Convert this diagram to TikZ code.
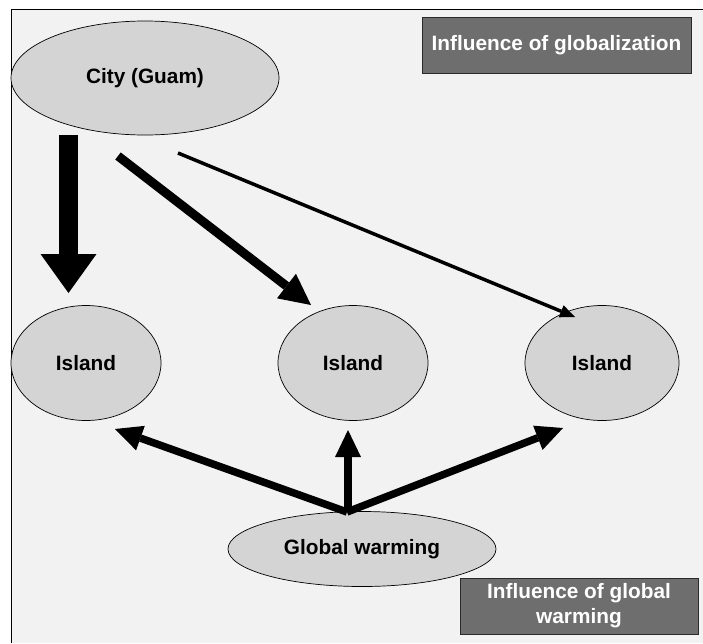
\documentclass[tikz,border=0pt]{standalone}
\usepackage{fontspec}
\setmainfont{Liberation Sans}
\usetikzlibrary{shapes.geometric,arrows.meta}
\definecolor{bg}{HTML}{F2F2F2}
\definecolor{nodefill}{HTML}{D4D4D4}
\definecolor{boxfill}{HTML}{6E6E6E}
\definecolor{boxedge}{HTML}{2A2A2A}
\begin{document}
\begin{tikzpicture}[x=1pt,y=-1pt,
  oval/.style={ellipse, draw=black, line width=0.7pt, fill=nodefill, inner sep=0pt,
    font=\fontsize{20.8}{25}\selectfont\bfseries},
  labelbox/.style={rectangle, draw=boxedge, line width=1pt, fill=boxfill, text=white,
    inner sep=0pt, align=center, font=\fontsize{20.8}{25}\selectfont\bfseries},
  bigarrow/.style={line width=19pt, -{Triangle[length=39pt,width=56pt,line width=0pt]}},
  midarrow/.style={line width=9pt, -{Triangle[length=31pt,width=31pt,line width=0pt]}},
  thinarrow/.style={line width=3.5pt, -{Triangle[length=15pt,width=13pt,line width=0pt]}},
  gwarrow/.style={line width=7.5pt, -{Triangle[length=27pt,width=26pt,line width=0pt]}}]
\useasboundingbox (0,0) rectangle (703,643);
\fill[white] (0,0) rectangle (703,643);
\fill[bg] (11,9) rectangle (703,643);
\draw[line width=1pt] (11,643) -- (11,9) -- (703,9);

\node[oval, minimum width=268pt, minimum height=114pt] (city) at (145,78) {City (Guam)};
\node[oval, minimum width=150pt, minimum height=115pt] (isl1) at (86,363) {Island};
\node[oval, minimum width=150pt, minimum height=115pt] (isl2) at (353,363) {Island};
\node[oval, minimum width=154pt, minimum height=115pt] (isl3) at (602,363) {Island};
\node[oval, minimum width=268pt, minimum height=75pt] (gw) at (362,549) {Global warming};

\node[labelbox, minimum width=269pt, minimum height=56pt] (globbox) at (556.5,45) {Influence of globalization};
\node[labelbox, minimum width=238pt, minimum height=56pt] (gwbox) at (579,606) {Influence of global\\warming};

\coordinate (c1) at (68.5,135);
\coordinate (t1) at (68.5,293);
\coordinate (c2) at (118,156);
\coordinate (t2) at (311,305);
\coordinate (c3) at (178,153);
\coordinate (t3) at (575,317);
\draw[bigarrow] (c1) -- (t1);
\draw[midarrow] (c2) -- (t2);
\draw[thinarrow] (c3) -- (t3);

\coordinate (g0) at (347,512);
\coordinate (g0v) at (348,512);
\coordinate (u1) at (115,429);
\coordinate (u2) at (348,430);
\coordinate (u3) at (563,428);
\draw[gwarrow] (g0) -- (u1);
\draw[gwarrow] (g0v) -- (u2);
\draw[gwarrow] (g0) -- (u3);
\end{tikzpicture}
\end{document}
